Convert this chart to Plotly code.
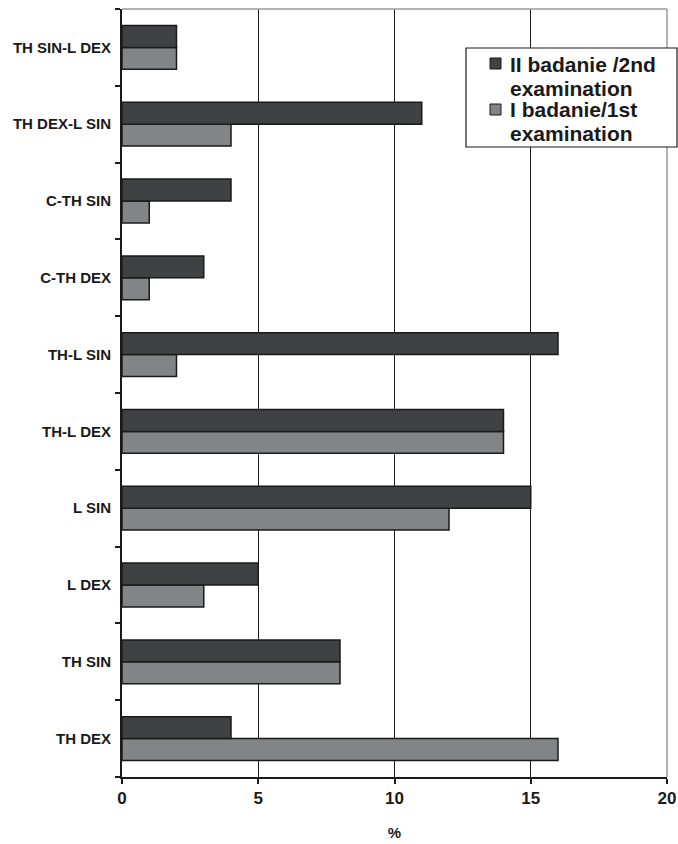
import plotly.graph_objects as go

# Localisation categories, listed bottom to top
categories = ["TH DEX", "TH SIN", "L DEX", "L SIN", "TH-L DEX",
              "TH-L SIN", "C-TH DEX", "C-TH SIN", "TH DEX-L SIN", "TH SIN-L DEX"]

# Percentages per examination
first_exam = [16, 8, 3, 12, 14, 2, 1, 1, 4, 2]
second_exam = [4, 8, 5, 15, 14, 16, 3, 4, 11, 2]

x_ticks = [0, 5, 10, 15, 20]

# Legend entries (top to bottom): two text lines each, plus fill colour
legend_lines = [["II badanie /2nd", "examination"], ["I badanie/1st", "examination"]]

FONT = "Liberation Sans, Arial, sans-serif"
INK = "#1a1a1a"
DARK = "#404143"
LIGHT = "#838487"

W, H = 678, 844
ML, MR, MT, MB = 122, 11, 9, 67
PW, PH = W - ML - MR, H - MT - MB


def px(x):
    return (x - ML) / PW


def py(y):
    return (H - MB - y) / PH


fig = go.Figure()
fig.add_trace(go.Bar(
    y=categories, x=first_exam, orientation="h", name="I badanie/1st examination",
    marker=dict(color=LIGHT, line=dict(color=INK, width=1.5)),
))
fig.add_trace(go.Bar(
    y=categories, x=second_exam, orientation="h", name="II badanie /2nd examination",
    marker=dict(color=DARK, line=dict(color=INK, width=1.5)),
))

fig.update_layout(
    width=W, height=H,
    margin=dict(l=ML, r=MR, t=MT, b=MB, autoexpand=False),
    paper_bgcolor="white", plot_bgcolor="white",
    barmode="group", bargap=0.43, bargroupgap=0,
    font=dict(family=FONT, color=INK),
    showlegend=False,
    xaxis=dict(
        range=[0, 20], tickvals=x_ticks, ticktext=[f"<b>{v}</b>" for v in x_ticks],
        tickfont=dict(size=17, family=FONT), automargin=False,
        showgrid=True, gridcolor=INK, gridwidth=1,
        showline=True, linecolor=INK, linewidth=2,
        ticks="outside", ticklen=5, tickcolor=INK, tickwidth=1.5,
        zeroline=False,
        title=dict(text="<b>%</b>", font=dict(size=15, family=FONT), standoff=20),
    ),
    yaxis=dict(
        type="category", categoryorder="array", categoryarray=categories,
        tickfont=dict(size=15, family=FONT), automargin=False,
        ticktext=[f"<b>{c}</b>" for c in categories], tickvals=categories,
        showline=True, linecolor=INK, linewidth=2,
        ticks="outside", ticklen=5, tickcolor=INK, tickwidth=1.5,
        tickson="boundaries", showgrid=False,
        ticklabelstandoff=6,
    ),
)

# Light frame along the top and right of the plot area
fig.add_shape(type="line", xref="paper", yref="paper", x0=0, x1=1, y0=1, y1=1,
              line=dict(color="#9a9a9a", width=1.5))
fig.add_shape(type="line", xref="paper", yref="paper", x0=1, x1=1, y0=0, y1=1,
              line=dict(color="#9a9a9a", width=1.5))

# Legend box
fig.add_shape(type="rect", xref="paper", yref="paper",
              x0=px(466), x1=px(677), y0=py(147), y1=py(48),
              fillcolor="white", line=dict(color=INK, width=1.2), layer="above")

swatch_colors = [DARK, LIGHT]
swatch_tops = [58, 104]
line_centers = [[65, 88], [110, 133]]
for colr, top, lines, centers in zip(swatch_colors, swatch_tops, legend_lines, line_centers):
    fig.add_shape(type="rect", xref="paper", yref="paper",
                  x0=px(490), x1=px(501), y0=py(top + 11), y1=py(top),
                  fillcolor=colr, line=dict(color=INK, width=1), layer="above")
    for text, cy in zip(lines, centers):
        fig.add_annotation(xref="paper", yref="paper", x=px(508), y=py(cy),
                           xanchor="left", yanchor="middle", showarrow=False,
                           text=f"<b>{text}</b>",
                           font=dict(size=21, family=FONT, color=INK))

fig.write_html("out.html")
